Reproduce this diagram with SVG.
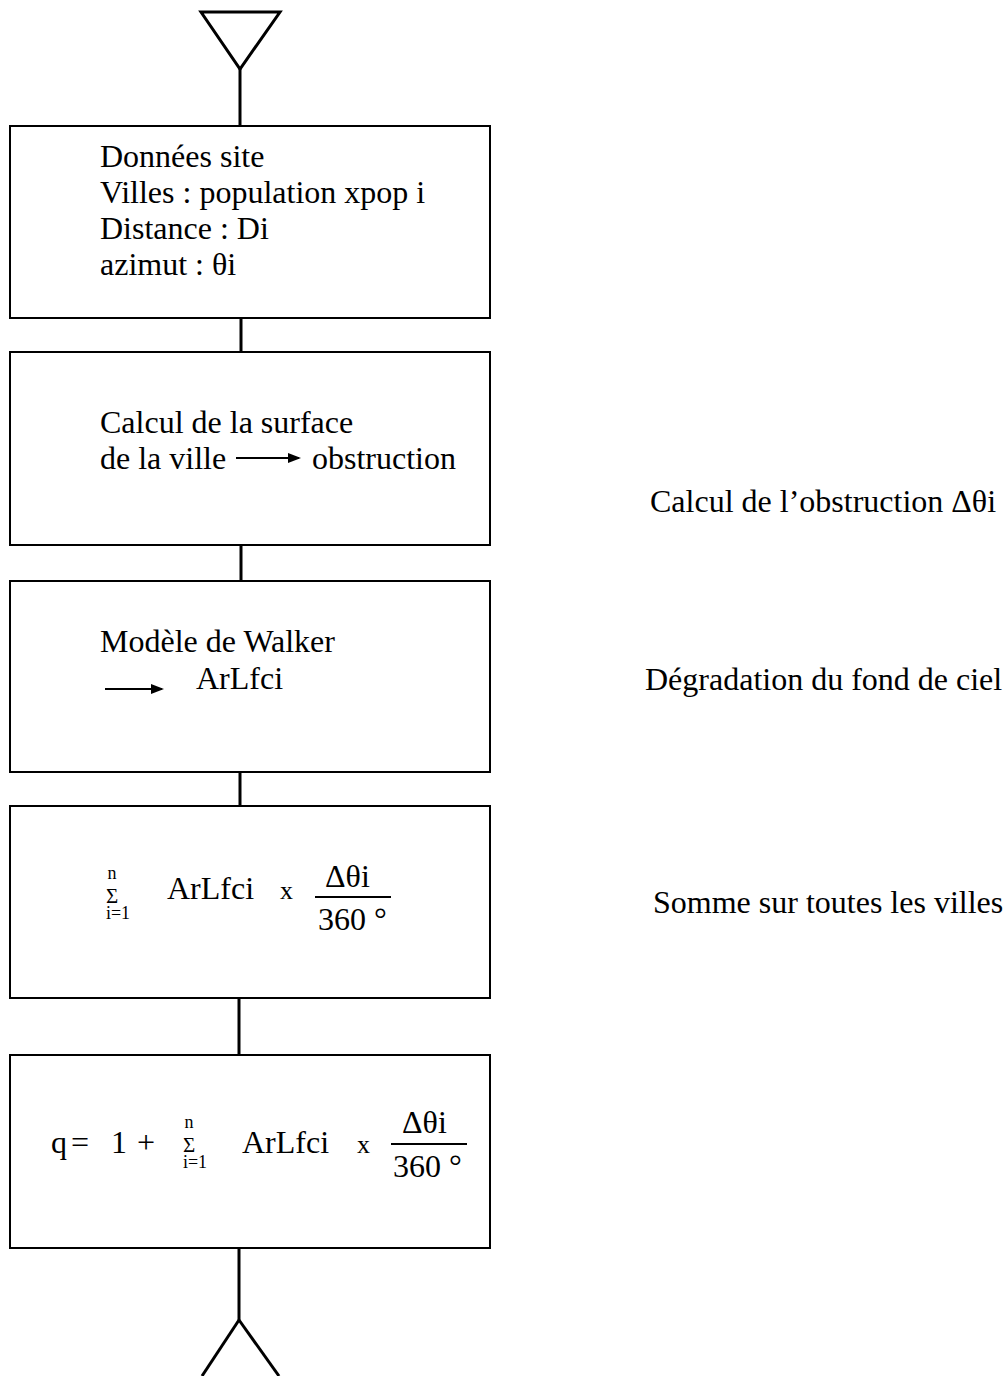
<svg xmlns="http://www.w3.org/2000/svg" width="1006" height="1376" viewBox="0 0 1006 1376">
<style>
.t{font-family:"Liberation Serif","Times New Roman",serif;font-size:32px;fill:#000}
.s{font-family:"Liberation Serif","Times New Roman",serif;font-size:18px;fill:#000}
.g{font-family:"Liberation Serif","Times New Roman",serif;font-size:21px;fill:#000}
.x{font-family:"Liberation Serif","Times New Roman",serif;font-size:26px;fill:#000}
.b{fill:#fff;stroke:#000;stroke-width:2}
.l{stroke:#000;stroke-width:3;fill:none}
.a{stroke:#000;stroke-width:2;fill:none}
</style>
<defs>
<marker id="ah" markerWidth="6.5" markerHeight="5" refX="5.5" refY="2.5" orient="auto" markerUnits="strokeWidth">
<path d="M0,0 L6.5,2.5 L0,5 Z" fill="#000"/>
</marker>
</defs>
<rect width="1006" height="1376" fill="#fff"/>
<g id="connectors">
<path class="l" d="M201,12 L280,12 L240,69 Z"/>
<line class="l" x1="240" y1="69" x2="240" y2="126"/>
<line class="l" x1="241" y1="318" x2="241" y2="352"/>
<line class="l" x1="241" y1="545" x2="241" y2="581"/>
<line class="l" x1="240" y1="772" x2="240" y2="806"/>
<line class="l" x1="239" y1="998" x2="239" y2="1055"/>
<line class="l" x1="239" y1="1248" x2="239" y2="1320"/>
<line class="l" x1="239" y1="1320" x2="202" y2="1376"/>
<line class="l" x1="239" y1="1320" x2="279" y2="1376"/>
</g>
<g id="n1">
<rect class="b" x="10" y="126" width="480" height="192"/>
<text class="t" x="100" y="167">Données site</text>
<text class="t" x="100" y="203">Villes : population xpop i</text>
<text class="t" x="100" y="239">Distance : Di</text>
<text class="t" x="100" y="275">azimut : θi</text>
</g>
<g id="n2">
<rect class="b" x="10" y="352" width="480" height="193"/>
<text class="t" x="100" y="433">Calcul de la surface</text>
<text class="t" x="100" y="469">de la ville</text>
<line class="a" x1="236" y1="458" x2="299" y2="458" marker-end="url(#ah)"/>
<text class="t" x="312" y="469">obstruction</text>
</g>
<g id="n3">
<rect class="b" x="10" y="581" width="480" height="191"/>
<text class="t" x="100" y="652">Modèle de Walker</text>
<line class="a" x1="105" y1="689" x2="162" y2="689" marker-end="url(#ah)"/>
<text class="t" x="196" y="689">ArLfci</text>
</g>
<g id="n4">
<rect class="b" x="10" y="806" width="480" height="192"/>
<text class="s" x="112" y="879" text-anchor="middle">n</text>
<text class="g" x="112" y="903" text-anchor="middle">Σ</text>
<text class="s" x="118" y="919" text-anchor="middle">i=1</text>
<text class="t" x="167" y="899">ArLfci</text>
<text class="x" x="280" y="899">x</text>
<text class="t" x="325" y="887">Δθi</text>
<line x1="315" y1="897" x2="391" y2="897" stroke="#000" stroke-width="2"/>
<text class="t" x="318" y="930">360 °</text>
</g>
<g id="n5">
<rect class="b" x="10" y="1055" width="480" height="193"/>
<text class="t" x="51" y="1153">q</text>
<text class="t" x="71" y="1153">=</text>
<text class="t" x="111" y="1153">1</text>
<text class="t" x="137" y="1153">+</text>
<text class="s" x="189" y="1128" text-anchor="middle">n</text>
<text class="g" x="189" y="1152" text-anchor="middle">Σ</text>
<text class="s" x="195" y="1168" text-anchor="middle">i=1</text>
<text class="t" x="242" y="1153">ArLfci</text>
<text class="x" x="357" y="1153">x</text>
<text class="t" x="402" y="1133">Δθi</text>
<line x1="391" y1="1144" x2="467" y2="1144" stroke="#000" stroke-width="2"/>
<text class="t" x="393" y="1177">360 °</text>
</g>
<g id="labels">
<text class="t" x="650" y="512">Calcul de l’obstruction Δθi</text>
<text class="t" x="645" y="690">Dégradation du fond de ciel</text>
<text class="t" x="653" y="913">Somme sur toutes les villes</text>
</g>
</svg>
